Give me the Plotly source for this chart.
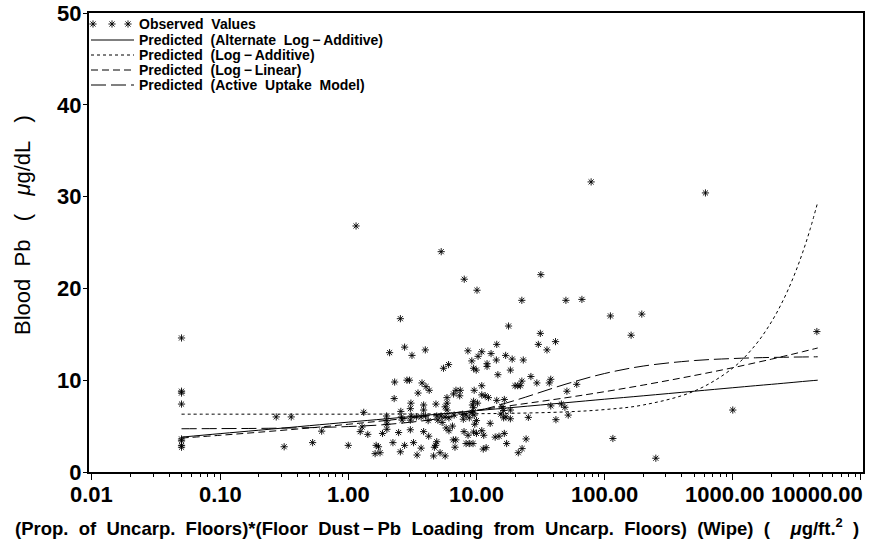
import math
import plotly.graph_objects as go

# ---------------- data ----------------
obs_x = [0.05, 0.05, 0.05, 0.05, 0.05, 0.05, 0.05, 0.05,
         0.274, 0.359, 0.316, 0.527, 0.62, 1.0, 1.24, 1.28, 1.15,
         5.31, 8.03, 10.1, 31.8, 22.6, 49.9, 66.5, 2.55, 17.8, 31.5, 30.4, 41.4, 35.5,
         2.1, 2.75, 3.14, 3.99, 8.58, 11.0, 13.0, 14.4, 10.3, 9.2, 16.9, 19.0, 23.2, 14.3,
         12.1, 12.1, 9.5, 9.96, 6.06, 5.53, 14.7, 18.4, 26.6, 2.3, 2.87, 3.0, 3.76, 4.04,
         4.28, 3.5, 6.92, 7.48, 6.63, 7.4, 9.6, 11.0, 11.0, 11.7, 12.4, 20.0, 21.0, 22.0,
         22.6, 29.6, 38.0, 37.0, 60.6, 50.8, 2.28, 5.89, 9.5, 9.3, 9.5, 10.2, 14.4, 16.5,
         15.8, 16.3, 18.4, 38.0, 46.0, 49.0, 52.0, 25.4, 41.7, 1.32, 3.08, 3.05, 3.87, 3.87,
         4.83, 5.9, 5.7, 5.9, 2.57, 2.6, 2.63, 1.99, 2.0, 2.0, 2.0, 3.1, 3.4, 3.7, 4.0,
         3.05, 4.2, 4.9, 5.3, 5.7, 6.1, 6.7, 5.0, 5.4, 5.8, 6.5, 6.1, 7.8, 8.3, 9.3, 7.9,
         8.8, 9.6, 10.0, 9.7, 8.0, 8.6, 9.5, 10.0, 11.0, 11.4, 12.8, 15.5, 16.3, 17.0, 18.4,
         14.0, 15.0, 16.5, 17.2, 24.4, 21.2, 22.7, 11.3, 11.9, 8.3, 8.8, 9.4, 6.9, 6.6, 6.8,
         4.9, 4.8, 4.7, 3.7, 3.23, 2.75, 2.23, 3.44, 4.63, 5.2, 5.7, 2.55, 1.62, 1.77, 1.65,
         1.72, 1.42, 1.85, 2.47, 3.05, 3.87, 4.24,
         78.5, 612.0, 111.0, 195.0, 161.0, 4530.0, 1000.0, 116.0, 251.0]
obs_y = [14.6, 8.8, 8.6, 7.4, 3.6, 3.4, 2.9, 2.7,
         6.0, 6.0, 2.75, 3.2, 4.45, 2.9, 4.4, 4.9, 26.8,
         24.0, 21.0, 19.8, 21.5, 18.7, 18.7, 18.8, 16.7, 15.9, 15.1, 13.9, 14.2, 13.3,
         13.0, 13.6, 12.7, 13.3, 13.2, 13.1, 12.9, 13.9, 12.6, 12.1, 12.7, 12.3, 12.2, 12.2,
         11.8, 11.5, 11.3, 11.1, 11.7, 11.3, 10.6, 11.1, 10.4, 9.8, 10.0, 10.0, 9.7, 9.3,
         8.9, 8.6, 8.9, 8.9, 8.5, 8.3, 8.9, 9.4, 8.4, 8.3, 8.1, 9.4, 9.4, 9.4,
         9.9, 9.7, 10.1, 9.7, 9.55, 8.8, 8.0, 8.1, 7.7, 7.3, 7.0, 7.5, 7.8, 7.9,
         7.1, 6.7, 6.75, 7.2, 7.4, 7.05, 6.2, 5.95, 5.7, 6.5, 7.5, 6.9, 7.3, 6.75,
         7.4, 7.5, 7.1, 6.75, 6.6, 6.0, 5.65, 6.1, 5.6, 5.2, 4.65, 6.1, 6.0, 6.0, 6.1,
         5.65, 5.6, 6.1, 6.1, 6.0, 5.9, 6.2, 5.65, 5.4, 4.8, 5.0, 4.5, 6.3, 6.2, 6.5, 5.75,
         5.9, 6.2, 5.6, 5.2, 4.4, 4.0, 4.35, 4.2, 4.5, 4.0, 5.3, 6.3, 5.9, 6.0, 5.8,
         3.8, 3.9, 4.2, 3.1, 3.6, 2.1, 2.55, 2.5, 2.65, 3.1, 3.1, 3.1, 3.5, 3.5, 2.7,
         3.3, 2.9, 2.7, 2.6, 3.2, 2.9, 3.2, 1.85, 1.75, 2.1, 1.75, 2.2, 2.0, 2.1, 2.9,
         2.75, 4.1, 4.2, 4.3, 4.6, 4.4, 3.9,
         31.6, 30.4, 17.0, 17.2, 14.9, 15.3, 6.75, 3.65, 1.5]

curve_x = [0.05, 0.1, 0.2, 0.5, 1, 2, 5, 10, 20, 50, 100, 200, 500, 1000,
           1500, 2000, 2500, 3000, 3500, 4000, 4600]
alt_log_additive = [3.80, 4.18, 4.55, 5.05, 5.43, 5.80, 6.30, 6.68, 7.05, 7.55, 7.93,
                    8.30, 8.80, 9.18, 9.40, 9.55, 9.67, 9.77, 9.86, 9.93, 10.00]
log_additive = [6.30, 6.30, 6.30, 6.30, 6.30, 6.31, 6.33, 6.35, 6.40, 6.55, 6.80,
                7.30, 8.81, 11.32, 13.83, 16.34, 18.85, 21.36, 23.87, 26.38, 29.39]
log_linear = [3.70, 4.00, 4.33, 4.80, 5.20, 5.62, 6.24, 6.74, 7.30, 8.09, 8.75,
              9.47, 10.51, 11.36, 11.90, 12.29, 12.61, 12.87, 13.10, 13.30, 13.51]
active_uptake = [4.71, 4.73, 4.75, 4.83, 4.95, 5.18, 5.80, 6.63, 7.80, 9.58, 10.73,
                 11.54, 12.14, 12.36, 12.44, 12.48, 12.50, 12.52, 12.53, 12.54, 12.55]

series_names = ["Observed\u00a0 Values",
                "Predicted\u00a0 (Alternate\u00a0 Log\u2009\u2212\u2009Additive)",
                "Predicted\u00a0 (Log\u2009\u2212\u2009Additive)",
                "Predicted\u00a0 (Log\u2009\u2212\u2009Linear)",
                "Predicted\u00a0 (Active\u00a0 Uptake\u00a0 Model)"]
series_dash = [None, "solid", "3px,3px", "7px,4px", "15px,5px"]

xtick_vals = [0.01, 0.1, 1, 10, 100, 1000, 10000]
xtick_text = ["0.01", "0.10", "1.00", "10.00", "100.00", "1000.00", "10000.00"]
ytick_vals = [0, 10, 20, 30, 40, 50]

FONT = "Liberation Sans, Arial, sans-serif"

# plot-area geometry (pixels) used for legend placement
L, R, T, B = 89, 863, 13, 472
PW, PH = R - L, B - T


def px_x(p):
    return (p - L) / PW


def px_y(p):
    return (B - p) / PH


STAR = dict(symbol="asterisk-open", size=6, color="black",
            line=dict(width=0.9, color="black"))

fig = go.Figure()
fig.add_trace(go.Scatter(
    x=obs_x, y=obs_y, mode="markers", name=series_names[0], showlegend=False,
    marker=STAR))
for ys, nm, dsh in zip([alt_log_additive, log_additive, log_linear, active_uptake],
                       series_names[1:], series_dash[1:]):
    fig.add_trace(go.Scatter(
        x=curve_x, y=ys, mode="lines", line_shape="spline", name=nm,
        showlegend=False, line=dict(color="black", width=1, dash=dsh)))

# custom legend (compact rows like the original)
rows = [24, 40, 55, 70, 85]
legend_star_px = [93, 112, 128]
fig.add_trace(go.Scatter(
    x=[p - L for p in legend_star_px], y=[rows[0] - T] * 3, mode="markers",
    xaxis="x2", yaxis="y2", showlegend=False, hoverinfo="skip",
    marker=STAR))

shapes = []
annotations = []
for i, (nm, row) in enumerate(zip(series_names, rows)):
    if series_dash[i] is not None:
        shapes.append(dict(type="line", xref="paper", yref="paper",
                           x0=px_x(91), x1=px_x(134), y0=px_y(row), y1=px_y(row),
                           line=dict(color="black", width=1, dash=series_dash[i])))
    annotations.append(dict(
        x=px_x(137), xref="paper", y=px_y(row), yref="paper",
        xanchor="left", yanchor="middle", showarrow=False, text=nm,
        font=dict(family=FONT, size=14, color="black", weight="bold")))

minor_vals = [m * 10 ** e for e in range(-2, 4) for m in range(2, 10)]

for i, (v, t) in enumerate(zip(xtick_vals, xtick_text)):
    anchor = "center"
    shift = 0
    if i == len(xtick_vals) - 1:
        anchor = "right"
        shift = 4
    elif i == len(xtick_vals) - 2:
        shift = -8
    annotations.append(dict(
        x=math.log10(v), xref="x", y=0, yref="paper", yanchor="top",
        xanchor=anchor, xshift=shift, yshift=-8, showarrow=False, text=t,
        font=dict(family=FONT, size=22, color="black", weight="bold")))

annotations.append(dict(
    x=(437 - L) / PW, xref="paper", y=0, yref="paper", yanchor="middle",
    yshift=-55, showarrow=False,
    text="(Prop.\u00a0 of\u00a0 Uncarp.\u00a0 Floors)*(Floor\u00a0 Dust\u2009\u2212\u2009Pb\u00a0 Loading\u00a0 from\u00a0 Uncarp.\u00a0 Floors)\u00a0 (Wipe)\u00a0 (\u00a0\u00a0\u00a0\u00a0<i>\u03bc</i>g/ft.<sup>2</sup>\u00a0 )",
    font=dict(family=FONT, size=18.5, color="black", weight="bold")))
annotations.append(dict(
    x=(22 - L) / PW, xref="paper", y=px_y(225), yref="paper",
    xanchor="center", yanchor="middle", textangle=-90, showarrow=False,
    text="Blood\u00a0 Pb\u00a0\u00a0 (\u00a0\u00a0\u00a0<i>\u03bc</i>g/dL\u00a0\u00a0\u00a0)",
    font=dict(family=FONT, size=22, color="black")))

fig.update_layout(
    width=873, height=542,
    margin=dict(l=L, r=873 - R, t=T, b=542 - B, autoexpand=False),
    paper_bgcolor="white", plot_bgcolor="white",
    showlegend=False,
    shapes=shapes,
    annotations=annotations,
    xaxis=dict(type="log", range=[-2.023, 4.016], showgrid=False, zeroline=False,
               automargin=False,
               showline=True, linewidth=2, linecolor="black", mirror=True,
               tickvals=xtick_vals, showticklabels=False,
               ticks="outside", ticklen=6, tickwidth=1, tickcolor="black",
               minor=dict(tickvals=minor_vals, ticks="outside", ticklen=3,
                          tickwidth=1, tickcolor="black")),
    yaxis=dict(range=[0, 50], showgrid=False, zeroline=False, automargin=False,
               showline=True, linewidth=2, linecolor="black", mirror=True,
               tickvals=ytick_vals, ticks="outside", ticklen=4, tickwidth=1,
               tickcolor="black", ticklabelstandoff=-3,
               tickfont=dict(family=FONT, size=22, color="black", weight="bold")),
    xaxis2=dict(overlaying="x", range=[0, PW], visible=False, fixedrange=True,
                automargin=False),
    yaxis2=dict(overlaying="y", range=[PH, 0], visible=False, fixedrange=True,
                anchor="x2", automargin=False),
)

fig.write_html("out.html")
